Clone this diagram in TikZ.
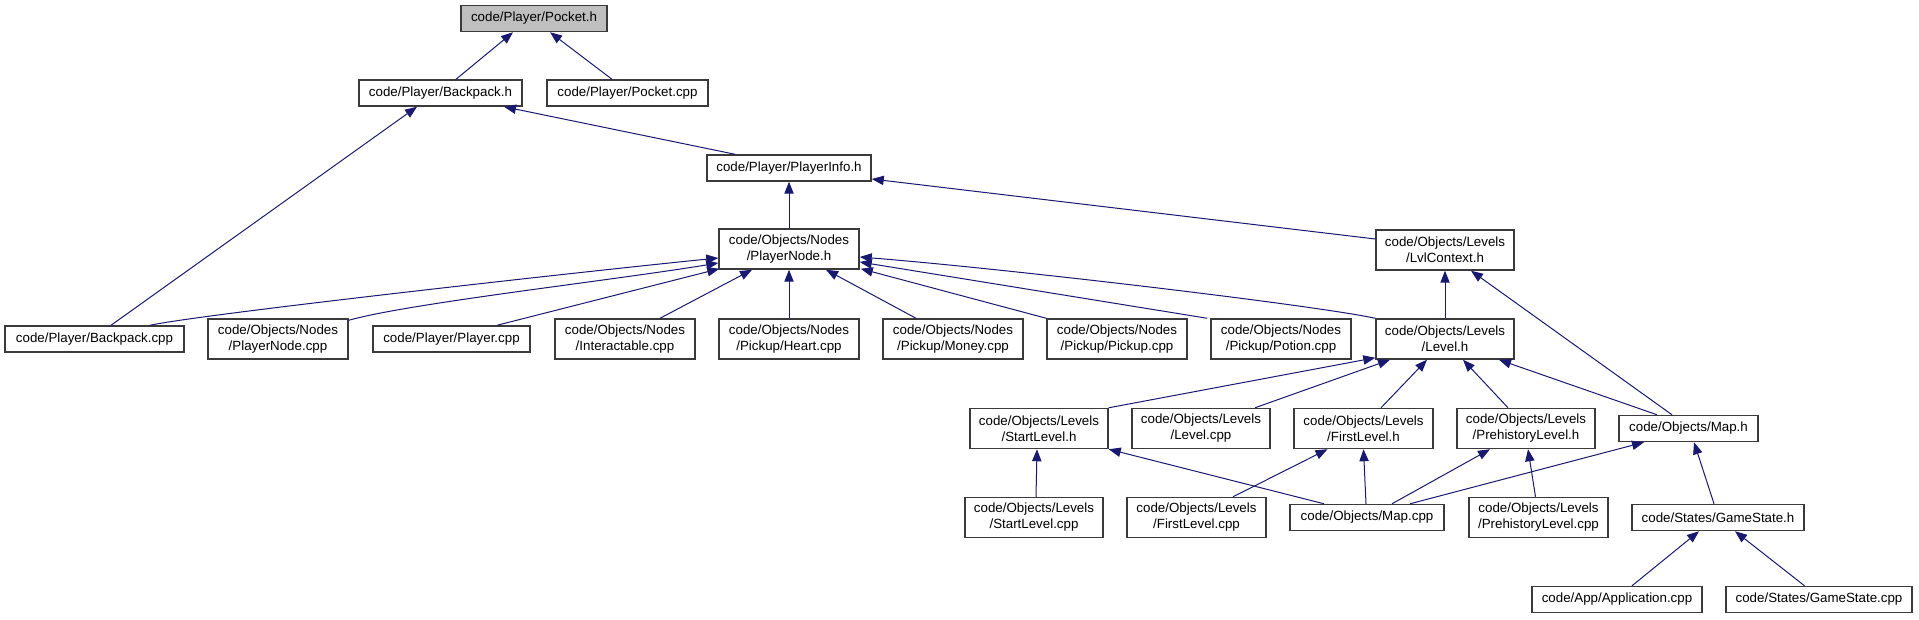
\documentclass[tikz,border=0pt]{standalone}
\usepackage{fontspec}
\setmainfont{Liberation Sans}
\usetikzlibrary{arrows.meta,calc}
\definecolor{edgeblue}{HTML}{191970}
\definecolor{boxgray}{HTML}{BFBFBF}
\definecolor{boxline}{HTML}{3A3A3A}
\begin{document}
\begin{tikzpicture}[x=0.75pt,y=-0.75pt,
  fbox/.style={draw=boxline, line width=1.1pt, fill=white, inner sep=0pt, align=center,
    font=\fontsize{10pt}{12pt}\selectfont},
  one/.style={fbox, minimum height=19.5pt},
  two/.style={fbox, minimum height=30pt},
  bw/.style={minimum width=#1*0.75pt},
  edge/.style={draw=edgeblue, line width=0.75pt, -{Triangle[length=9pt,width=7pt]}}]
\useasboundingbox (0,0) rectangle (1919,619);

% nodes
\node[one,bw=146,fill=boxgray] (pocketh) at (534,18.5) {code/Player/Pocket.h};
\node[one,bw=163] (backpackh) at (440.5,93) {code/Player/Backpack.h};
\node[one,bw=161] (pocketcpp) at (627.5,93) {code/Player/Pocket.cpp};
\node[one,bw=164] (playerinfoh) at (789,168) {code/Player/PlayerInfo.h};
\node[two,bw=140] (playernodeh) at (789,249) {code/Objects/Nodes\\/PlayerNode.h};
\node[two,bw=138] (lvlcontexth) at (1445,250) {code/Objects/Levels\\/LvlContext.h};

\node[one,bw=179] (backpackcpp) at (94.5,339) {code/Player/Backpack.cpp};
\node[two,bw=140] (playernodecpp) at (278,339) {code/Objects/Nodes\\/PlayerNode.cpp};
\node[one,bw=157] (playercpp) at (451.5,339) {code/Player/Player.cpp};
\node[two,bw=140] (interactablecpp) at (625,339) {code/Objects/Nodes\\/Interactable.cpp};
\node[two,bw=140] (heartcpp) at (789,339) {code/Objects/Nodes\\/Pickup/Heart.cpp};
\node[two,bw=140] (moneycpp) at (953,339) {code/Objects/Nodes\\/Pickup/Money.cpp};
\node[two,bw=140] (pickupcpp) at (1117,339) {code/Objects/Nodes\\/Pickup/Pickup.cpp};
\node[two,bw=140] (potioncpp) at (1281,339) {code/Objects/Nodes\\/Pickup/Potion.cpp};
\node[two,bw=138] (levelh) at (1445,339) {code/Objects/Levels\\/Level.h};

\node[two,bw=138] (startlevelh) at (1039,428.5) {code/Objects/Levels\\/StartLevel.h};
\node[two,bw=138] (levelcpp) at (1201,428.5) {code/Objects/Levels\\/Level.cpp};
\node[two,bw=139] (firstlevelh) at (1363.5,428.5) {code/Objects/Levels\\/FirstLevel.h};
\node[two,bw=138] (prehistorylevelh) at (1526,428.5) {code/Objects/Levels\\/PrehistoryLevel.h};
\node[one,bw=139] (maph) at (1688.5,428.5) {code/Objects/Map.h};

\node[two,bw=138] (startlevelcpp) at (1034,517.5) {code/Objects/Levels\\/StartLevel.cpp};
\node[two,bw=139] (firstlevelcpp) at (1196.5,517.5) {code/Objects/Levels\\/FirstLevel.cpp};
\node[one,bw=154] (mapcpp) at (1367,517.5) {code/Objects/Map.cpp};
\node[two,bw=139] (prehistorylevelcpp) at (1538.5,517.5) {code/Objects/Levels\\/PrehistoryLevel.cpp};
\node[one,bw=172] (gamestateh) at (1718,517.5) {code/States/GameState.h};

\node[one,bw=170] (applicationcpp) at (1617,599.5) {code/App/Application.cpp};
\node[one,bw=186] (gamestatecpp) at (1819,599.5) {code/States/GameState.cpp};

% edges (arrow at the included file)
\draw[edge] ($(backpackh.north)+(15.5,0)$) -- ($(pocketh.south)+(-21,0)$);
\draw[edge] ($(pocketcpp.north)+(-15.5,0)$) -- ($(pocketh.south)+(16,0)$);
\draw[edge] ($(playerinfoh.north)+(-54,0)$) -- ($(backpackh.south)+(63.5,0)$);
\draw[edge] ($(backpackcpp.north)+(16.5,0)$) -- ($(backpackh.south)+(-23.5,0)$);
\draw[edge] (playernodeh.north) -- (playerinfoh.south);
\draw[edge] ($(lvlcontexth.west)+(0,-11)$) -- ($(playerinfoh.east)+(0,11)$);

\draw[edge] ($(backpackcpp.north)+(55.5,0)$) .. controls +(50,-11) and +(-130,13) .. ($(playernodeh.west)+(0,9)$);
\draw[edge] ($(playernodecpp.north east)+(0,2)$) .. controls +(60,-17) and +(-110,18) .. ($(playernodeh.west)+(0,14)$);
\draw[edge] ($(playercpp.north)+(45.5,0)$) -- ($(playernodeh.south west)+(1,-1)$);
\draw[edge] ($(interactablecpp.north)+(35,0)$) -- ($(playernodeh.south)+(-37,0)$);
\draw[edge] (heartcpp.north) -- (playernodeh.south);
\draw[edge] ($(moneycpp.north)+(-37,0)$) -- ($(playernodeh.south)+(37,0)$);
\draw[edge] (pickupcpp.north west) -- ($(playernodeh.south east)+(1,-1)$);
\draw[edge] ($(potioncpp.north west)+(-3,0)$) -- ($(playernodeh.east)+(0,13)$);
\draw[edge] (levelh.north west) .. controls +(-60,-13) and +(150,12) .. ($(playernodeh.east)+(0,8)$);

\draw[edge] (levelh.north) -- (lvlcontexth.south);
\draw[edge] ($(maph.north)+(-16.5,0)$) -- ($(lvlcontexth.south)+(26,0)$);

\draw[edge] (startlevelh.north east) -- ($(levelh.south west)+(0,-2)$);
\draw[edge] ($(levelcpp.north)+(54,0)$) -- ($(levelh.south)+(-55,0)$);
\draw[edge] ($(firstlevelh.north)+(17.5,0)$) -- ($(levelh.south)+(-18,0)$);
\draw[edge] ($(prehistorylevelh.north)+(-18,0)$) -- ($(levelh.south)+(18,0)$);
\draw[edge] ($(maph.north)+(-31.5,0)$) -- ($(levelh.south)+(54,0)$);

\draw[edge] ($(startlevelcpp.north)+(2,0)$) -- ($(startlevelh.south)+(-2,0)$);
\draw[edge] ($(mapcpp.north)+(-43,0)$) -- (startlevelh.south east);
\draw[edge] ($(firstlevelcpp.north)+(36.5,0)$) -- ($(firstlevelh.south)+(-36,0)$);
\draw[edge] ($(mapcpp.north)+(-1,0)$) -- (firstlevelh.south);
\draw[edge] ($(mapcpp.north)+(25,0)$) -- ($(prehistorylevelh.south)+(-36,0)$);
\draw[edge] ($(prehistorylevelcpp.north)+(-3,0)$) -- ($(prehistorylevelh.south)+(2,0)$);
\draw[edge] ($(mapcpp.north)+(43,0)$) -- ($(maph.south)+(-44.5,0)$);
\draw[edge] ($(gamestateh.north)+(-4,0)$) -- ($(maph.south)+(5.5,0)$);
\draw[edge] ($(applicationcpp.north)+(15,0)$) -- ($(gamestateh.south)+(-19,0)$);
\draw[edge] ($(gamestatecpp.north)+(-14.5,0)$) -- ($(gamestateh.south)+(17,0)$);
\end{tikzpicture}
\end{document}
